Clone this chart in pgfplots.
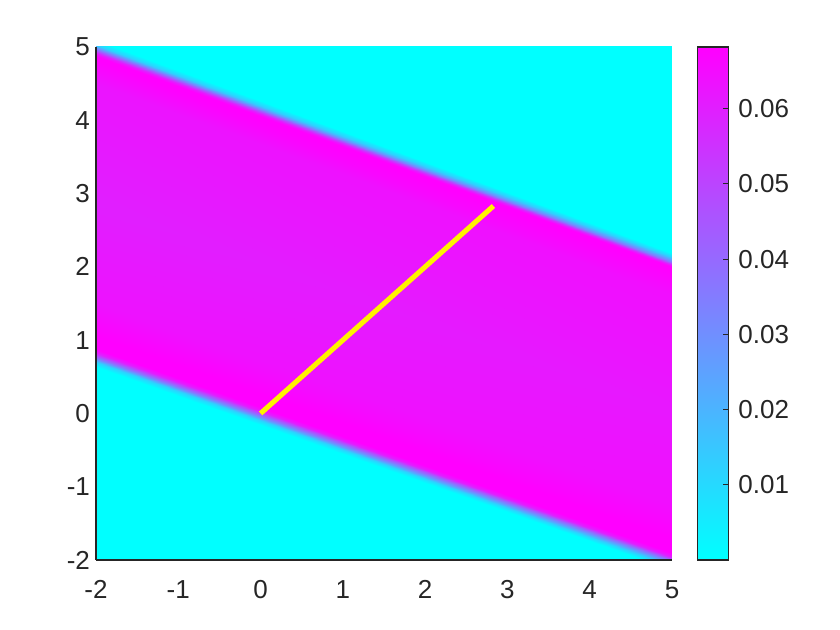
\documentclass[border=0pt]{standalone}
\usepackage{pgfplots}
\pgfplotsset{compat=1.18}
\usepackage{fontspec}
\setmainfont{Liberation Sans}
\definecolor{axgray}{rgb}{0.15,0.15,0.15}
\newcommand{\tickfont}{\fontsize{19.5}{23}\selectfont}

% band field, rows run parallel to the band edges: x y value
\pgfplotstableread{
x y c
-2 -2.24 0.0000
5 -5.02 0.0000
-2 0.64 0.0000
5 -2.14 0.0000
-2 0.70 0.0120
5 -2.08 0.0120
-2 0.76 0.0360
5 -2.02 0.0360
-2 0.82 0.0600
5 -1.96 0.0600
-2 0.88 0.0682
5 -1.90 0.0682
-2 1.06 0.0682
5 -1.70 0.0682
-2 1.50 0.0635
5 -1.25 0.0645
-2 2.86 0.0600
5 0.03 0.0620
-2 4.50 0.0630
5 1.62 0.0645
-2 4.82 0.0682
5 1.95 0.0682
-2 4.88 0.0682
5 2.00 0.0682
-2 4.92 0.0600
5 2.03 0.0600
-2 4.97 0.0360
5 2.07 0.0360
-2 5.03 0.0120
5 2.13 0.0120
-2 5.09 0.0000
5 2.19 0.0000
-2 8.47 0.0000
5 5.57 0.0000
}\fielddata

\begin{document}
\begin{tikzpicture}
\begin{axis}[
    name=main,
    width=432pt, height=384.75pt,
    scale only axis,
    xmin=-2, xmax=5, ymin=-2, ymax=5,
    axis on top,
    axis x line*=bottom, axis y line*=left,
    axis line style={axgray, line width=0.9pt, -},
    xtick={-2,...,5}, ytick={-2,...,5},
    xticklabels={-2,-1,0,1,2,3,4,5},
    yticklabels={-2,-1,0,1,2,3,4,5},
    major tick length=0pt,
    ticklabel style={font=\tickfont, text=axgray},
    xticklabel style={yshift=-12pt},
    yticklabel style={xshift=-1pt},
    colormap={mycool}{rgb=(0,1,1) rgb=(1,0,1)},
    point meta min=0, point meta max=0.0682,
    colorbar,
    colorbar/width=23.25pt,
    colorbar style={
        at={(parent axis.north east)}, anchor=north west,
        xshift=10.5pt,
        axis on top,
        axis lines=box,
        ytick={0.01,0.02,0.03,0.04,0.05,0.06},
        yticklabels={0.01,0.02,0.03,0.04,0.05,0.06},
        scaled y ticks=false,
        ytick pos=right,
        yticklabel pos=right,
        tick align=inside,
        major tick length=3.75pt,
        tick style={axgray, line width=0.8pt},
        axis line style={axgray, line width=0.9pt, -},
        yticklabel style={font=\tickfont, text=axgray, xshift=4pt},
    },
]
\addplot[surf, shader=interp, mesh/cols=2, point meta=\thisrow{c}]
    table[x=x, y=y] {\fielddata};
\addplot[color=yellow, line width=3.8pt] coordinates {(0,0) (2.83,2.83)};
\end{axis}
\path (main.south west) ++(-72pt,-52.5pt) (main.north east) ++(126pt,35.25pt);
\end{tikzpicture}
\end{document}
